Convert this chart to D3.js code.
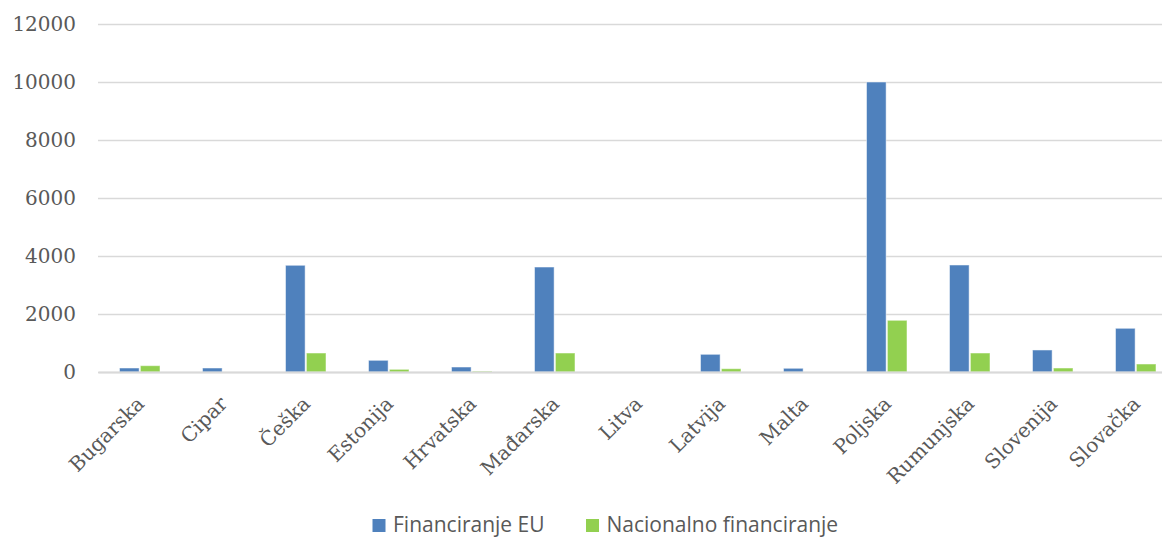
<!DOCTYPE html>
<html><head><meta charset="utf-8">
<script src="https://cdn.jsdelivr.net/npm/d3@7"></script>
<style>body{margin:0;background:#fff}</style>
</head><body>
<svg id="c" width="1162" height="538"></svg>
<script>
const categories = ["Bugarska","Cipar","Češka","Estonija","Hrvatska","Mađarska","Litva","Latvija","Malta","Poljska","Rumunjska","Slovenija","Slovačka"];
const seriesNames = ["Financiranje EU","Nacionalno financiranje"];
const euValues = [138,138,3680,403,172,3620,0,610,128,10000,3690,759,1507];
const nationalValues = [218,0,655,92,30,655,0,114,0,1783,655,138,276];
const yTicks = [0,2000,4000,6000,8000,10000,12000];
const colors = ["#4f81bd","#92d050"];

(function(){
const svg = d3.select("#c");
const pl = 98, pr = 1177, pt = 24, pb = 372;
const x = d3.scaleBand().domain(categories).range([pl,pr]).paddingInner(0).paddingOuter(0);
const x1 = d3.scaleBand().domain(seriesNames).range([21.5,62]).paddingInner(0.06);
const y = d3.scaleLinear().domain([0,12000]).range([pb,pt]);
const serif = "'DejaVu Serif', serif";

// grid
const yAxis = d3.axisLeft(y).tickValues(yTicks).tickSize(-(pr-pl)).tickPadding(22).tickFormat(d3.format("d"));
const ga = svg.append("g").attr("transform",`translate(${pl},0)`).call(yAxis);
ga.select(".domain").remove();
ga.selectAll(".tick line").attr("stroke","#d9d9d9").attr("stroke-width",1.5);
ga.selectAll(".tick text").attr("fill","#595959").style("font-family",serif).style("font-size","20px");

// bars
const data = categories.map((c,i)=>({c, vals:[euValues[i], nationalValues[i]]}));
const groups = svg.append("g").selectAll("g").data(data).join("g")
  .attr("transform",d=>`translate(${x(d.c)},0)`);
groups.selectAll("rect").data(d=>d.vals.map((v,j)=>({v,s:seriesNames[j],j})))
  .join("rect")
  .attr("x",d=>x1(d.s))
  .attr("width",x1.bandwidth())
  .attr("y",d=>y(d.v))
  .attr("height",d=>y(0)-y(d.v))
  .attr("fill",d=>colors[d.j])
  .attr("stroke","#ffffff").attr("stroke-opacity",0.5).attr("stroke-width",1);

// x axis
const xAxis = d3.axisBottom(x).tickSize(0).tickPadding(0);
const gx = svg.append("g").attr("transform",`translate(0,${pb})`).call(xAxis);
gx.select(".domain").attr("stroke","#d9d9d9").attr("stroke-width",2);
gx.selectAll(".tick text")
  .attr("fill","#595959").style("font-family",serif).style("font-size","20px")
  .attr("text-anchor","end").attr("y",0).attr("dy","0")
  .attr("transform","translate(6,33) rotate(-45)");

// legend
const legend = svg.append("g");
const lx = [372.5,586];
seriesNames.forEach((s,i)=>{
  legend.append("rect").attr("x",lx[i]).attr("y",519).attr("width",13).attr("height",13).attr("fill",colors[i]);
  legend.append("text").attr("x",lx[i]+20.5).attr("y",532).text(s)
    .attr("fill","#595959").style("font-family","'Open Sans', sans-serif").style("font-size","21px");
});
})();
</script>
</body></html>
